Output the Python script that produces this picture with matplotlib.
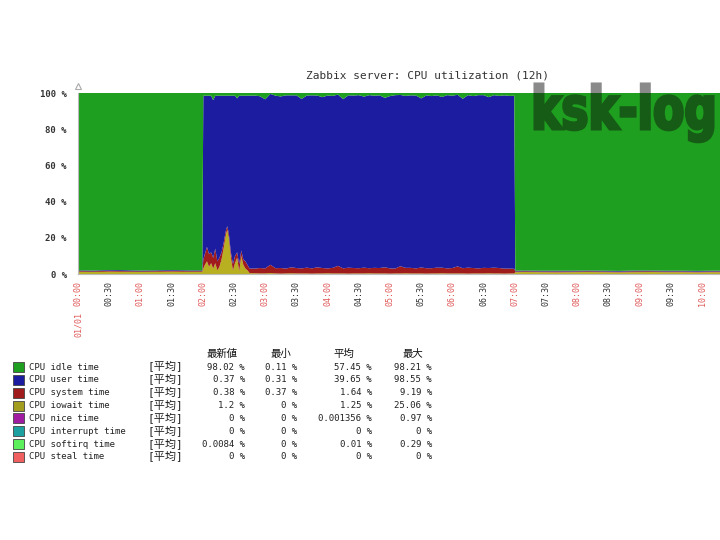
import matplotlib
matplotlib.use("Agg")
import matplotlib.pyplot as plt
from matplotlib.patches import Rectangle, PathPatch
from matplotlib.textpath import TextPath
from matplotlib.font_manager import FontProperties
from matplotlib.transforms import Affine2D

# time in minutes from 00:00
minutes = [0, 15, 30, 45, 60, 75, 90, 105, 119.5,
           120.5, 122, 124, 126, 128, 130, 132, 134, 136, 138, 140, 142, 143.5, 145,
           147, 149, 151, 153, 155, 157, 159, 161, 163, 165,
           170, 175, 180, 185, 190, 195, 200, 205, 210, 215,
           220, 225, 230, 235, 240, 245, 250, 255, 260, 265,
           270, 275, 280, 285, 290, 295, 300, 305, 310, 315,
           320, 325, 330, 335, 340, 345, 350, 355, 360, 365,
           370, 375, 380, 385, 390, 395, 400, 405, 410, 415, 419.5,
           420.5, 430, 445, 460, 475, 490, 505, 520, 535, 550, 565, 580, 595, 610, 620]

iowait = [1.2, 1.1, 1.3, 1.2, 1.1, 1.2, 1.3, 1.2, 1.2,
          3, 5, 7, 4, 6, 3, 6, 2, 4, 8, 14, 21, 24.5, 20,
          9, 2, 6, 9, 1.5, 10, 5, 3, 2, 0.5,
          0.4, 0.3, 0.3, 0.5, 0.3, 0.2, 0.3, 0.4, 0.3, 0.3,
          0.3, 0.2, 0.3, 0.3, 0.4, 0.3, 0.3, 0.3, 0.2, 0.3,
          0.3, 0.3, 0.4, 0.3, 0.3, 0.3, 0.2, 0.3, 0.3, 0.4,
          0.3, 0.3, 0.3, 0.2, 0.3, 0.3, 0.4, 0.3, 0.3, 0.3,
          0.3, 0.2, 0.3, 0.3, 0.3, 0.4, 0.3, 0.3, 0.2, 0.3, 0.3,
          1.0, 1.1, 1.0, 0.9, 1.0, 1.1, 1.0, 0.9, 1.0, 1.1, 1.0, 1.0, 0.9, 1.0, 1.0]

system = [0.4, 0.4, 0.5, 0.4, 0.4, 0.4, 0.5, 0.4, 0.4,
          5, 6, 8, 7, 6, 6, 8, 5, 5, 4, 3, 2.5, 2, 2.5,
          3, 3.5, 4, 3, 4, 3, 3, 4, 3, 2.5,
          2.6, 3.0, 2.8, 4.6, 2.9, 3.1, 2.7, 3.3, 3.0, 2.8,
          3.2, 2.9, 3.4, 3.0, 2.7, 3.1, 4.2, 2.8, 3.3, 3.0,
          2.9, 3.2, 2.8, 3.1, 3.0, 3.4, 2.9, 2.7, 4.0, 3.0,
          3.1, 2.8, 3.3, 3.0, 2.9, 3.2, 3.1, 2.8, 3.0, 3.9,
          2.9, 3.3, 3.0, 2.8, 3.1, 2.9, 3.2, 3.0, 2.8, 2.7, 2.6,
          0.4, 0.4, 0.4, 0.5, 0.4, 0.4, 0.4, 0.4, 0.5, 0.4, 0.4, 0.4, 0.4, 0.4, 0.4]

user = [0.4, 0.4, 0.4, 0.5, 0.4, 0.4, 0.4, 0.4, 0.4,
        90.5, 87.5, 83.5, 87.5, 86.5, 87, 84.5, 91.5, 89.5, 86.5, 81.5, 75, 72, 76,
        86.5, 93, 88.5, 85, 93, 85.5, 90.5, 91.5, 93.5, 95.5,
        95.6, 94.9, 93.4, 94.4, 95.3, 94.8, 95.7, 95.0, 95.4, 93.6,
        95.1, 95.6, 94.9, 94.4, 95.5, 95.0, 94.6, 93.5, 95.2, 95.3,
        95.6, 94.5, 95.6, 95.1, 95.4, 93.6, 95.2, 95.8, 94.6, 95.0,
        95.3, 95.5, 93.4, 95.5, 95.1, 95.2, 94.3, 95.7, 95.2, 94.8,
        93.6, 95.3, 95.0, 95.7, 95.4, 94.4, 95.3, 95.1, 95.7, 95.4, 95.6,
        0.4, 0.4, 0.4, 0.4, 0.4, 0.4, 0.4, 0.4, 0.4, 0.4, 0.4, 0.4, 0.4, 0.4, 0.4]

idle = [100 - a - b - c for a, b, c in zip(iowait, system, user)]

tick_minutes = list(range(0, 601, 30))
tick_labels = [f"{m // 60:02d}:{m % 60:02d}" for m in tick_minutes]
y_ticks = [0, 20, 40, 60, 80, 100]

# legend table
item_names = ["CPU idle time", "CPU user time", "CPU system time", "CPU iowait time",
              "CPU nice time", "CPU interrupt time", "CPU softirq time", "CPU steal time"]
item_colors = ["#1f9f1f", "#1c1ca0", "#a01c1c", "#a39d1f",
               "#a01ca0", "#1ca0a0", "#5cf05c", "#f06060"]
last_vals = ["98.02", "0.37", "0.38", "1.2", "0", "0", "0.0084", "0"]
min_vals = ["0.11", "0.31", "0.37", "0", "0", "0", "0", "0"]
avg_vals = ["57.45", "39.65", "1.64", "1.25", "0.001356", "0", "0.01", "0"]
max_vals = ["98.21", "98.55", "9.19", "25.06", "0.97", "0", "0.29", "0"]
headers = ["最新値", "最小", "平均", "最大"]

W, H = 720, 540
MONO = "DejaVu Sans Mono"
CJK = ["Noto Sans CJK JP", "DejaVu Sans"]
MIXED = ["DejaVu Sans Mono", "Noto Sans CJK JP"]

fig = plt.figure(figsize=(W / 100, H / 100), dpi=100)
ax = fig.add_axes([78 / W, 1 - 274 / H, (W - 78) / W, (274 - 93) / H])

ax.stackplot(minutes, iowait, system, user, idle,
             colors=["#b8b020", "#a01c1c", "#1c1ca0", "#1f9f1f"], linewidth=0)
ax.set_xlim(0, (W - 78) / 62.4 * 60)
ax.set_ylim(0, 100)

ax.set_xticks(tick_minutes)
ax.set_xticklabels(tick_labels, rotation=90, fontsize=6, family=MONO, va="top")
for lab, m in zip(ax.get_xticklabels(), tick_minutes):
    lab.set_color("#e05a5a" if m % 60 == 0 else "#333333")
ax.set_yticks(y_ticks)
ax.set_yticklabels([f"{v} %" for v in y_ticks], fontsize=6.5, family=MONO,
                   color="#333333", fontweight="bold")
ax.tick_params(axis="x", length=0, pad=5)
ax.tick_params(axis="y", length=0, pad=8)
for side in ["top", "right"]:
    ax.spines[side].set_visible(False)
for side in ["left", "bottom"]:
    ax.spines[side].set_color("#bbbbbb")
    ax.spines[side].set_linewidth(0.8)

# overlay in pixel coordinates for texts and legend
lax = fig.add_axes([0, 0, 1, 1])
lax.set_xlim(0, W)
lax.set_ylim(H, 0)
lax.axis("off")

lax.plot([78], [86], marker="^", markersize=5, markerfacecolor="white",
         markeredgecolor="#aaaaaa", markeredgewidth=0.8)
lax.text(427, 76, "Zabbix server: CPU utilization (12h)", ha="center", va="center",
         fontsize=8, family=MONO, color="#333333")
lax.text(78, 312, "01/01", rotation=90, ha="center", va="top", fontsize=6,
         family=MONO, color="#e05a5a")

# watermark, squeezed into its box (x 533..715, ascender top 83, baseline 130)
tp = TextPath((0, 0), "ksk-log", size=100,
              prop=FontProperties(family="DejaVu Sans", weight="bold"))
ext = tp.get_extents()
sx = (713 - 535) / ext.width
sy = (129 - 84) / ext.y1
wm = tp.transformed(Affine2D().translate(-ext.x0, 0).scale(sx, -sy).translate(535, 129))
# grey over the white margin, dark green over the plot
for color, clip in [("#8a8a8a", (500, 60, 220, 33)), ("#165c16", (500, 93, 220, 60))]:
    patch = PathPatch(wm, facecolor=color, edgecolor=color, linewidth=2.2)
    lax.add_patch(patch)
    clip_rect = Rectangle(clip[:2], clip[2], clip[3], transform=lax.transData)
    patch.set_clip_path(clip_rect)

# legend table
col_right = [245, 297, 372, 432]
col_head_x = [222, 281, 344, 413]
for hx, h in zip(col_head_x, headers):
    lax.text(hx, 354, h, ha="center", va="center", fontsize=7.5, family=CJK,
             color="#111111")

row_y0, row_dy = 367, 12.85
for i, name in enumerate(item_names):
    y = row_y0 + i * row_dy
    lax.add_patch(Rectangle((13, y - 5), 11, 10, facecolor=item_colors[i],
                            edgecolor="#444444", linewidth=0.6))
    lax.text(29, y, name, ha="left", va="center", fontsize=6.5, family=MONO, color="#222222")
    lax.text(147, y, "[平均]", ha="left", va="center", fontsize=8, family=MIXED,
             color="#222222")
    for cx, vals in zip(col_right, [last_vals, min_vals, avg_vals, max_vals]):
        lax.text(cx, y, f"{vals[i]} %", ha="right", va="center", fontsize=6.5,
                 family=MONO, color="#222222")

fig.savefig("out.png", dpi=100)
